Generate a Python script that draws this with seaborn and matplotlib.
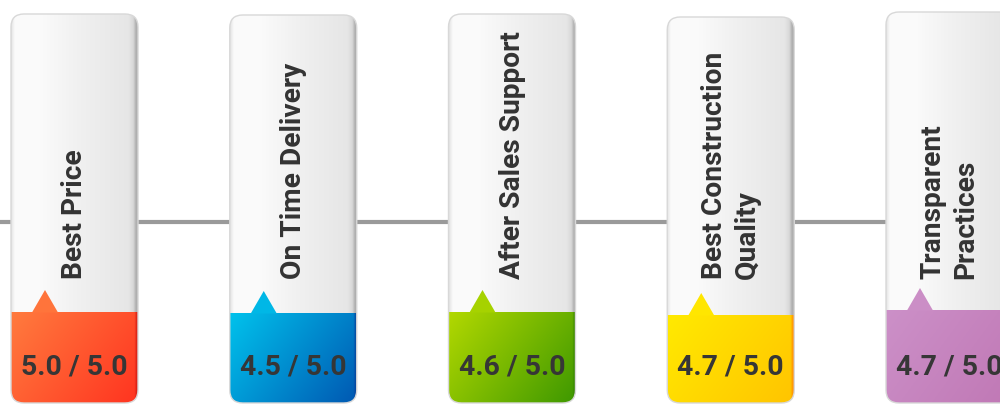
import numpy as np
import pandas as pd
import matplotlib
matplotlib.use("Agg")
import matplotlib.pyplot as plt
from matplotlib.patches import FancyBboxPatch, Polygon
from matplotlib import font_manager, colors as mcolors
import seaborn as sns

# ---- data ----
categories = ["Best Price", "On Time Delivery", "After Sales Support",
              "Best Construction\nQuality", "Transparent\nPractices"]
scores = [5.0, 4.5, 4.6, 4.7, 4.7]
max_score = 5.0
band_top_colors = ["#FF7B3E", "#00C2EC", "#B2D800", "#FFEA00", "#CC90C8"]
band_bottom_colors = ["#FF3420", "#0058B2", "#3E9800", "#FFC400", "#C078B5"]
band_edge_colors = ["#D01810", "#0A3E98", "#2F7A00", "#FF8A00", "#A8609F"]

sns.set_theme(style="white")

names = {f.name for f in font_manager.fontManager.ttflist}
fam = "Liberation Sans Narrow" if "Liberation Sans Narrow" in names else "Roboto"
plt.rcParams['font.family'] = [fam, 'DejaVu Sans']

fig = plt.figure(figsize=(10, 4.04), dpi=100)
ax = fig.add_axes([0, 0, 1, 1])
ax.set_xlim(0, 1000)
ax.set_ylim(404, 0)
ax.axis("off")
renderer = fig.canvas.get_renderer()


def fit_size(txt, target_px, base=20):
    t = fig.text(0, 0, txt, fontsize=base, fontweight="bold")
    w = t.get_window_extent(renderer=renderer).width
    t.remove()
    return base * target_px / w


label_fs = fit_size("After Sales Support", 248)
score_fs = fit_size("5.0 / 5.0", 106)

# connector line
line_df = pd.DataFrame({"x": [0, 1000], "y": [222, 222]})
sns.lineplot(data=line_df, x="x", y="y", ax=ax, color="#9A9A9A", lw=3, zorder=1)

card_w = 127
pitch = 218.75
first_left = 11
tops = [14, 15, 14, 17, 12]
card_bottom = 403


def body_gradient(n=200):
    u = np.linspace(0, 1, n)
    stops = [(0.0, "#E4E4E4"), (0.03, "#FBFBFB"), (0.25, "#FAFAFA"), (0.55, "#F0F0F0"),
             (0.93, "#E6E6E6"), (0.965, "#D8D8D8"), (0.985, "#B4B4B4"), (1.0, "#A8A8A8")]
    xs = [s[0] for s in stops]
    cols = np.array([mcolors.to_rgb(s[1]) for s in stops])
    img = np.stack([np.interp(u, xs, cols[:, k]) for k in range(3)], axis=-1)
    return img[None, :, :]


def band_gradient(c1, c2, edge, ny=100, nx=130):
    c1 = np.array(mcolors.to_rgb(c1)); c2 = np.array(mcolors.to_rgb(c2))
    ce = np.array(mcolors.to_rgb(edge))
    u = np.linspace(0, 1, nx)[None, :, None]
    v = np.linspace(0, 1, ny)[:, None, None]
    t = np.clip(0.65 * u + 0.35 * v, 0, 1)
    img = c1 * (1 - t) + c2 * t
    w = np.clip((u - 0.975) / 0.025, 0, 1)
    img = img * (1 - w) + ce * w
    return img


for i, (cat, sc) in enumerate(zip(categories, scores)):
    left = first_left + i * pitch
    top = tops[i]
    cx = left + card_w / 2
    band_top = top + 298
    patch = FancyBboxPatch((left, top), card_w, card_bottom - top,
                           boxstyle="round,pad=0,rounding_size=13",
                           facecolor="none", edgecolor="#D8D8D8", lw=1.0, zorder=5)
    ax.add_patch(patch)
    im = ax.imshow(body_gradient(), extent=(left, left + card_w, card_bottom, top),
                   aspect="auto", zorder=2, interpolation="bilinear")
    im.set_clip_path(patch)
    im2 = ax.imshow(band_gradient(band_top_colors[i], band_bottom_colors[i], band_edge_colors[i]),
                    extent=(left, left + card_w, card_bottom, band_top),
                    aspect="auto", zorder=3, interpolation="bilinear")
    im2.set_clip_path(patch)
    apex_x = left + 34
    tri_col = np.array(mcolors.to_rgb(band_top_colors[i])) * 0.9 + np.array(mcolors.to_rgb(band_bottom_colors[i])) * 0.1
    ax.add_patch(Polygon([(apex_x - 13, band_top + 0.5), (apex_x + 13, band_top + 0.5), (apex_x, band_top - 22)],
                         closed=True, facecolor=tri_col, edgecolor="none", zorder=4))
    ax.text(cx, 279, cat, rotation=90, ha="center", va="bottom", multialignment="left",
            fontsize=label_fs, fontweight="bold", color="#333333", zorder=6, linespacing=1.3)
    ax.text(cx, 367, f"{sc:.1f} / {max_score:.1f}", ha="center", va="center",
            fontsize=score_fs, fontweight="bold", color="#363636", zorder=6)

fig.savefig("out.png", dpi=100)
